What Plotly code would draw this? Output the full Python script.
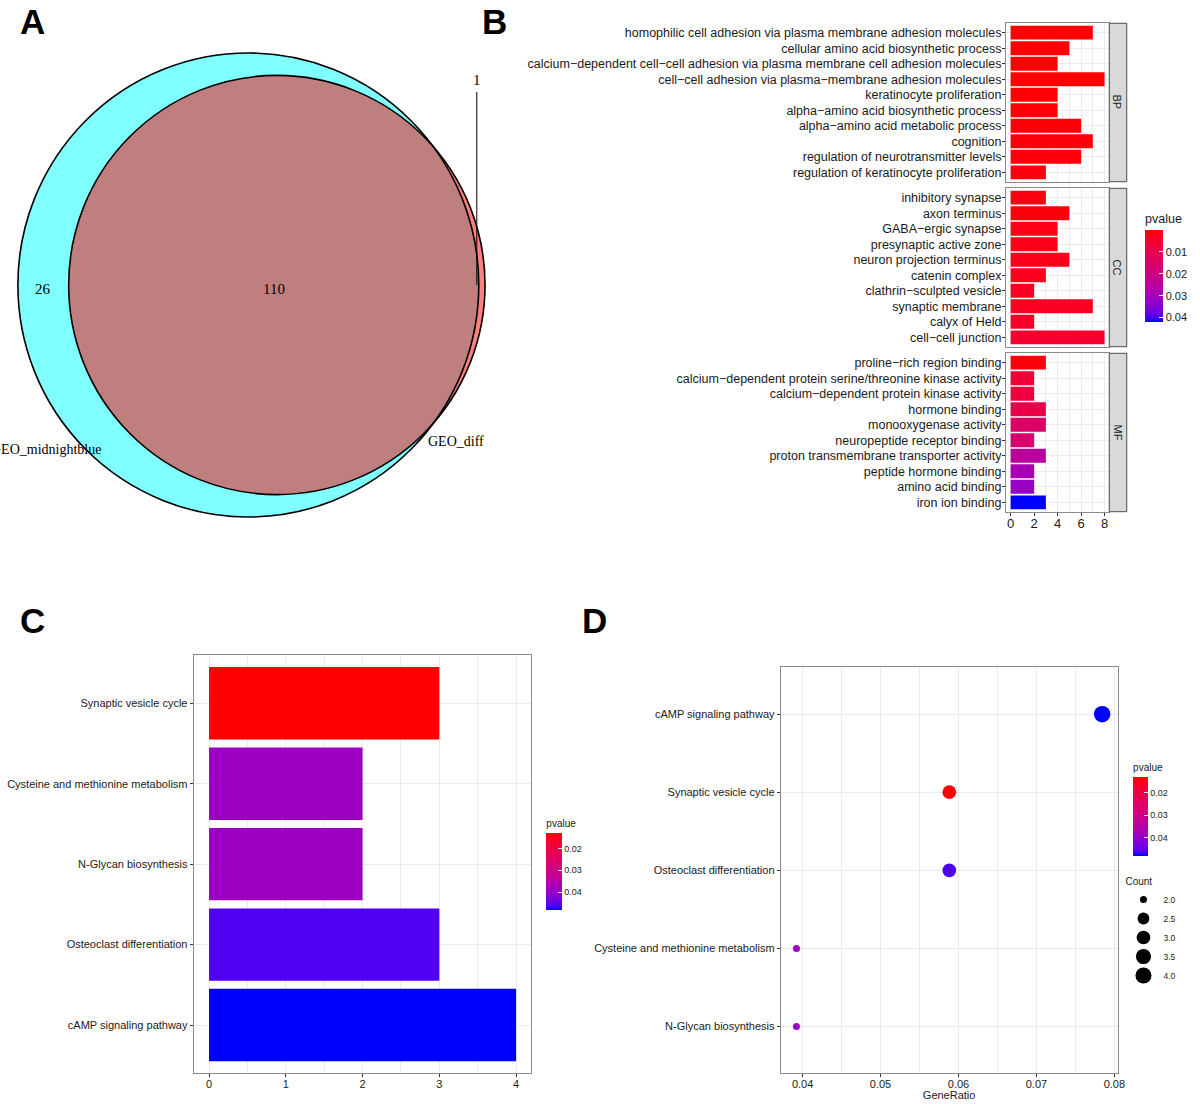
import math
import plotly.graph_objects as go

W, H = 1200, 1104
def px(x): return x / W
def py(y): return 1 - y / H

# ---------------- DATA ----------------
venn_names = ["GEO_midnightblue", "GEO_diff"]
venn_only_a = 26
venn_both = 110
venn_only_b = 1

bp_terms = ["homophilic cell adhesion via plasma membrane adhesion molecules",
            "cellular amino acid biosynthetic process",
            "calcium\u2212dependent cell\u2212cell adhesion via plasma membrane cell adhesion molecules",
            "cell\u2212cell adhesion via plasma\u2212membrane adhesion molecules",
            "keratinocyte proliferation",
            "alpha\u2212amino acid biosynthetic process",
            "alpha\u2212amino acid metabolic process",
            "cognition",
            "regulation of neurotransmitter levels",
            "regulation of keratinocyte proliferation"]
bp_counts = [7, 5, 4, 8, 4, 4, 6, 7, 6, 3]
bp_pvalues = [0.0001, 0.0003, 0.0004, 0.0002, 0.0005, 0.0006, 0.0007, 0.0008, 0.0009, 0.0012]

cc_terms = ["inhibitory synapse", "axon terminus", "GABA\u2212ergic synapse",
            "presynaptic active zone", "neuron projection terminus", "catenin complex",
            "clathrin\u2212sculpted vesicle", "synaptic membrane", "calyx of Held",
            "cell\u2212cell junction"]
cc_counts = [3, 5, 4, 4, 5, 3, 2, 7, 2, 8]
cc_pvalues = [0.0015, 0.0010, 0.0018, 0.0020, 0.0022, 0.0028, 0.0035, 0.0030, 0.0040, 0.0050]

mf_terms = ["proline\u2212rich region binding",
            "calcium\u2212dependent protein serine/threonine kinase activity",
            "calcium\u2212dependent protein kinase activity",
            "hormone binding", "monooxygenase activity",
            "neuropeptide receptor binding",
            "proton transmembrane transporter activity",
            "peptide hormone binding", "amino acid binding", "iron ion binding"]
mf_counts = [3, 2, 2, 3, 3, 2, 3, 2, 2, 3]
mf_pvalues = [0.0010, 0.0070, 0.0075, 0.0090, 0.0150, 0.0160, 0.0250, 0.0290, 0.0320, 0.0420]

facet_labels = ["BP", "CC", "MF"]

kegg_bar_terms = ["Synaptic vesicle cycle", "Cysteine and methionine metabolism",
                  "N-Glycan biosynthesis", "Osteoclast differentiation",
                  "cAMP signaling pathway"]
kegg_bar_counts = [3, 2, 2, 3, 4]
kegg_bar_pvalues = [0.0128, 0.0390, 0.0390, 0.0460, 0.0481]

kegg_dot_terms = ["cAMP signaling pathway", "Synaptic vesicle cycle",
                  "Osteoclast differentiation", "Cysteine and methionine metabolism",
                  "N-Glycan biosynthesis"]
kegg_dot_counts = [4, 3, 3, 2, 2]
kegg_dot_pvalues = [0.0481, 0.0128, 0.0460, 0.0390, 0.0390]
kegg_gene_total = 51

pvalue_ticks = [0.01, 0.02, 0.03, 0.04]
count_legend_values = [2.0, 2.5, 3.0, 3.5, 4.0]

# ---------------- COLOUR SCALE (Lab interpolation red -> blue) ----------------
def srgb_to_lab(rgb):
    def lin(c):
        c = c / 255
        return c / 12.92 if c <= 0.04045 else ((c + 0.055) / 1.055) ** 2.4
    r, g, b = [lin(c) for c in rgb]
    X = 0.4124 * r + 0.3576 * g + 0.1805 * b
    Y = 0.2126 * r + 0.7152 * g + 0.0722 * b
    Z = 0.0193 * r + 0.1192 * g + 0.9505 * b
    xn, yn, zn = 0.95047, 1.0, 1.08883
    def f(t):
        return t ** (1 / 3) if t > 0.008856 else 7.787 * t + 16 / 116
    fx, fy, fz = f(X / xn), f(Y / yn), f(Z / zn)
    return (116 * fy - 16, 500 * (fx - fy), 200 * (fy - fz))

def lab_to_srgb(lab):
    L, a, b = lab
    fy = (L + 16) / 116
    fx = fy + a / 500
    fz = fy - b / 200
    def finv(t):
        return t ** 3 if t ** 3 > 0.008856 else (t - 16 / 116) / 7.787
    X, Y, Z = 0.95047 * finv(fx), finv(fy), 1.08883 * finv(fz)
    r = 3.2406 * X - 1.5372 * Y - 0.4986 * Z
    g = -0.9689 * X + 1.8758 * Y + 0.0415 * Z
    bb = 0.0557 * X - 0.2040 * Y + 1.0570 * Z
    def gam(c):
        c = max(0.0, min(1.0, c))
        return 12.92 * c if c <= 0.0031308 else 1.055 * c ** (1 / 2.4) - 0.055
    return tuple(int(round(255 * gam(c))) for c in (r, g, bb))

lab_red = srgb_to_lab((255, 0, 0))
lab_blue = srgb_to_lab((0, 0, 255))
colorscale = []
N = 20
for i in range(N + 1):
    s = i / N  # 0 -> high p (blue), 1 -> low p (red)
    t = 1 - s
    lab = tuple(lab_red[k] + (lab_blue[k] - lab_red[k]) * t for k in range(3))
    r, g, b = lab_to_srgb(lab)
    colorscale.append([s, f"rgb({r},{g},{b})"])

FONT = "Liberation Sans, Arial, sans-serif"
SERIF = "Liberation Serif, Times New Roman, serif"
TXT = "#1a1a1a"
GRID = "#EBEBEB"
BORDER = "#8a8a8a"

fig = go.Figure()
layout = dict(width=W, height=H, margin=dict(l=0, r=0, t=0, b=0),
              paper_bgcolor="white", plot_bgcolor="white",
              font=dict(family=FONT, color=TXT), showlegend=True)
shapes = []
annotations = []

def cbar(x0, bar_top, bar_len, thick, tsize, titlesize):
    title_h = titlesize * 1.2 + 4
    return dict(x=px(x0), xanchor="left", y=py(bar_top - title_h), yanchor="top",
                len=bar_len + title_h, lenmode="pixels", thickness=thick, thicknessmode="pixels",
                outlinewidth=0, xpad=0, ypad=0,
                tickvals=[-v for v in pvalue_ticks], ticktext=[f"{v:.2f}" for v in pvalue_ticks],
                ticks="inside", tickcolor="white", ticklen=4,
                tickfont=dict(size=tsize, color=TXT, family=FONT),
                title=dict(text="pvalue", side="top", font=dict(size=titlesize, color=TXT, family=FONT)))

# ---------------- PANEL A : Venn ----------------
layout["xaxis7"] = dict(domain=[0, px(520)], range=[0, 520], visible=False, anchor="y7", fixedrange=True)
layout["yaxis7"] = dict(domain=[py(560), 1], range=[560, 0], visible=False, anchor="x7", fixedrange=True)

nA = venn_only_a + venn_both
nB = venn_only_b + venn_both
rA = 232.0
rB = rA * math.sqrt(nB / nA)
target = venn_both / nA * math.pi * rA ** 2

def overlap(d, r1, r2):
    if d <= abs(r1 - r2):
        return math.pi * min(r1, r2) ** 2
    if d >= r1 + r2:
        return 0.0
    a1 = r1 ** 2 * math.acos((d * d + r1 * r1 - r2 * r2) / (2 * d * r1))
    a2 = r2 ** 2 * math.acos((d * d + r2 * r2 - r1 * r1) / (2 * d * r2))
    a3 = 0.5 * math.sqrt((-d + r1 + r2) * (d + r1 - r2) * (d - r1 + r2) * (d + r1 + r2))
    return a1 + a2 - a3

lo, hi = abs(rA - rB), rA + rB
for _ in range(100):
    mid = (lo + hi) / 2
    if overlap(mid, rA, rB) > target:
        lo = mid
    else:
        hi = mid
dAB = (lo + hi) / 2
cxA, cyA = 250.0, 285.0
cxB, cyB = cxA + dAB, cyA

for (cx, cy, r, fill) in [(cxA, cyA, rA, "rgba(0,255,255,0.5)"), (cxB, cyB, rB, "rgba(255,0,0,0.5)")]:
    shapes.append(dict(type="circle", xref="x7", yref="y7", x0=cx - r, x1=cx + r, y0=cy - r, y1=cy + r,
                       fillcolor=fill, line=dict(width=0), layer="above"))
for (cx, cy, r) in [(cxA, cyA, rA), (cxB, cyB, rB)]:
    shapes.append(dict(type="circle", xref="x7", yref="y7", x0=cx - r, x1=cx + r, y0=cy - r, y1=cy + r,
                       fillcolor="rgba(0,0,0,0)", line=dict(width=1.6, color="black"), layer="above"))

annotations += [
    dict(xref="x7", yref="y7", x=((cxA - rA) + (cxB - rB)) / 2, y=cyA + 4, text=str(venn_only_a),
         showarrow=False, font=dict(family=SERIF, size=15, color="black")),
    dict(xref="x7", yref="y7", x=cxB - 3, y=cyA + 4, text=str(venn_both),
         showarrow=False, font=dict(family=SERIF, size=15, color="black")),
    dict(xref="x7", yref="y7", x=480, y=80, text=str(venn_only_b),
         showarrow=False, font=dict(family=SERIF, size=15, color="black")),
    dict(xref="x7", yref="y7", x=104, y=449, xanchor="right", text=venn_names[0],
         showarrow=False, font=dict(family=SERIF, size=14, color="black")),
    dict(xref="x7", yref="y7", x=429, y=441, xanchor="left", text=venn_names[1],
         showarrow=False, font=dict(family=SERIF, size=14, color="black")),
]
shapes.append(dict(type="line", xref="x7", yref="y7", x0=480, x1=480, y0=92, y1=285,
                   line=dict(color="black", width=1), layer="above"))

# ---------------- PANEL B : GO faceted bars ----------------
facet_data = [(bp_terms, bp_counts, bp_pvalues), (cc_terms, cc_counts, cc_pvalues),
              (mf_terms, mf_counts, mf_pvalues)]
facet_y = [(23.3, 181.7), (188.3, 346.7), (353.3, 511.7)]
bx0, bx1, sx1 = 1012.7, 1116.7, 1134.3
for i, ((terms, counts, pvals), (ytop, ybot)) in enumerate(zip(facet_data, facet_y)):
    k = "" if i == 0 else str(i + 1)
    fig.add_trace(go.Bar(x=counts, y=terms, orientation="h", width=0.9,
                         marker=dict(color=[-p for p in pvals], coloraxis="coloraxis", line=dict(width=0)),
                         xaxis="x" + k, yaxis="y" + k, showlegend=False))
    last = (i == 2)
    layout["xaxis" + k] = dict(domain=[px(bx0), px(bx1)], range=[-0.4, 8.4], anchor="y" + k,
                               tick0=0, dtick=2, showgrid=True, gridcolor=GRID, gridwidth=1,
                               minor=dict(dtick=1, tick0=0, showgrid=True, gridcolor=GRID, gridwidth=0.6),
                               zeroline=False, showline=True, mirror=True, linecolor=BORDER, linewidth=1,
                               showticklabels=last, ticks="outside" if last else "",
                               ticklen=3, tickcolor="#333333", ticklabelstandoff=-3,
                               tickfont=dict(size=13, color=TXT, family=FONT))
    layout["yaxis" + k] = dict(domain=[py(ybot), py(ytop)], type="category", range=[9.6, -0.6],
                               anchor="x" + k, showgrid=True, gridcolor=GRID, gridwidth=1,
                               zeroline=False, showline=True, mirror=True, linecolor=BORDER, linewidth=1,
                               ticks="outside", ticklen=3, tickcolor="#333333", ticklabelstandoff=-2,
                               tickfont=dict(size=12.5, color=TXT, family=FONT))
    shapes.append(dict(type="rect", xref="paper", yref="paper", x0=px(bx1), x1=px(sx1),
                       y0=py(ybot), y1=py(ytop), fillcolor="#D9D9D9",
                       line=dict(color="#4d4d4d", width=1), layer="above"))
    annotations.append(dict(xref="paper", yref="paper", x=px((bx1 + sx1) / 2), y=py((ytop + ybot) / 2),
                            xanchor="center", yanchor="middle",
                            text=facet_labels[i], textangle=90, showarrow=False,
                            font=dict(size=11, color=TXT, family=FONT)))

layout["coloraxis"] = dict(colorscale=colorscale, colorbar=cbar(1152.7, 230, 91.7, 18, 11, 12.5))

# ---------------- PANEL C : KEGG bars ----------------
fig.add_trace(go.Bar(x=kegg_bar_counts, y=kegg_bar_terms, orientation="h", width=0.9,
                     marker=dict(color=[-p for p in kegg_bar_pvalues], coloraxis="coloraxis2", line=dict(width=0)),
                     xaxis="x4", yaxis="y4", showlegend=False))
layout["xaxis4"] = dict(domain=[px(195), px(535)], range=[-0.2, 4.2], anchor="y4",
                        tick0=0, dtick=1, showgrid=True, gridcolor=GRID, gridwidth=1,
                        minor=dict(dtick=0.5, tick0=0, showgrid=True, gridcolor=GRID, gridwidth=0.6),
                        zeroline=False, showline=True, mirror=True, linecolor=BORDER, linewidth=1,
                        ticks="outside", ticklen=3, tickcolor="#333333", ticklabelstandoff=-3,
                        tickfont=dict(size=11, color=TXT, family=FONT))
layout["yaxis4"] = dict(domain=[py(1073.3), py(655)], type="category", range=[4.6, -0.6], anchor="x4",
                        showgrid=True, gridcolor=GRID, gridwidth=1, zeroline=False,
                        showline=True, mirror=True, linecolor=BORDER, linewidth=1,
                        ticks="outside", ticklen=3, tickcolor="#333333",
                        tickfont=dict(size=11, color=TXT, family=FONT))
layout["coloraxis2"] = dict(colorscale=colorscale, colorbar=cbar(550, 832.7, 77.3, 15.5, 9, 10))

# ---------------- PANEL D : KEGG dot plot ----------------
cmin_c, cmax_c = min(kegg_dot_counts), max(kegg_dot_counts)
def dot_size(c):
    return 7 + 9.5 * math.sqrt((c - cmin_c) / (cmax_c - cmin_c))

fig.add_trace(go.Scatter(x=[c / kegg_gene_total for c in kegg_dot_counts], y=kegg_dot_terms,
                         mode="markers",
                         marker=dict(size=[dot_size(c) for c in kegg_dot_counts],
                                     color=[-p for p in kegg_dot_pvalues], coloraxis="coloraxis3",
                                     line=dict(width=0), opacity=1),
                         xaxis="x5", yaxis="y5", showlegend=False))
for v in count_legend_values:
    fig.add_trace(go.Scatter(x=[None], y=[None], mode="markers", name=f"{v:.1f}",
                             marker=dict(size=dot_size(v), color="black"),
                             xaxis="x5", yaxis="y5", showlegend=True))
layout["xaxis5"] = dict(domain=[px(786), px(1125)], range=[0.0372, 0.0804], anchor="y5",
                        tick0=0.04, dtick=0.01, showgrid=True, gridcolor=GRID, gridwidth=1,
                        minor=dict(dtick=0.005, tick0=0.04, showgrid=True, gridcolor=GRID, gridwidth=0.6),
                        zeroline=False, showline=True, mirror=True, linecolor=BORDER, linewidth=1,
                        ticks="outside", ticklen=3, tickcolor="#333333", ticklabelstandoff=-3,
                        tickfont=dict(size=11, color=TXT, family=FONT),
                        title=dict(text="GeneRatio", standoff=1, font=dict(size=11, color=TXT, family=FONT)))
layout["yaxis5"] = dict(domain=[py(1073.3), py(667.3)], type="category", range=[4.6, -0.6], anchor="x5",
                        showgrid=True, gridcolor=GRID, gridwidth=1, zeroline=False,
                        showline=True, mirror=True, linecolor=BORDER, linewidth=1,
                        ticks="outside", ticklen=3, tickcolor="#333333",
                        tickfont=dict(size=11, color=TXT, family=FONT))
layout["coloraxis3"] = dict(colorscale=colorscale, colorbar=cbar(1140.7, 776.7, 79.3, 15.3, 9, 10))
layout["legend"] = dict(x=px(1131), y=py(872), xanchor="left", yanchor="top",
                        title=dict(text="Count", font=dict(size=10, color=TXT, family=FONT)),
                        itemsizing="trace", font=dict(size=8.5, color=TXT, family=FONT),
                        bgcolor="rgba(0,0,0,0)", tracegroupgap=0, itemwidth=30)

# ---------------- Panel letters ----------------
for letter, x, y in [("A", 33, 22), ("B", 498, 22), ("C", 33, 620), ("D", 598, 620)]:
    annotations.append(dict(xref="paper", yref="paper", x=px(x), y=py(y), xanchor="center", yanchor="middle",
                            text=f"<b>{letter}</b>", showarrow=False,
                            font=dict(size=35, color="black", family=FONT)))

layout["shapes"] = shapes
layout["annotations"] = annotations
fig.update_layout(**layout)
# remove the browser's default 8px body margin so the 1200x1104 figure fills the window exactly
fig.write_html("out.html", config={"displayModeBar": False},
               post_script="document.body.style.margin='0px';document.documentElement.style.overflow='hidden';")
